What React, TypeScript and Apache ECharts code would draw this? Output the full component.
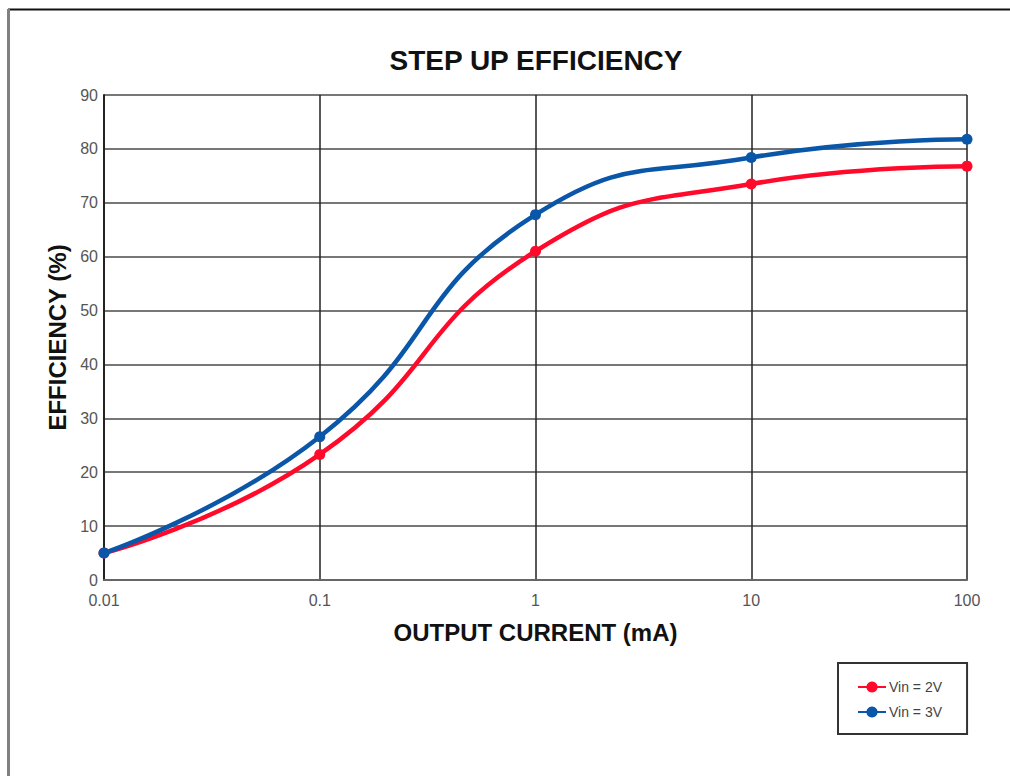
import React, { useEffect, useRef } from "react";
import * as echarts from "echarts";

const currents = [0.01, 0.1, 1, 10, 100];
const vin2 = [5, 23.3, 61, 73.5, 76.8];
const vin3 = [5, 26.6, 67.8, 78.4, 81.8];
const yTicks = [0, 10, 20, 30, 40, 50, 60, 70, 80, 90];
const seriesNames = ["Vin = 2V", "Vin = 3V"];

export default function App() {
  const ref = useRef<HTMLDivElement>(null);
  useEffect(() => {
    if (!ref.current) return;
    const chart = echarts.init(ref.current, undefined, { renderer: "svg" });
    const font = "Liberation Sans, Arial, sans-serif";
    chart.setOption({
      animation: false,
      backgroundColor: "#ffffff",
      title: {
        text: "STEP UP EFFICIENCY",
        left: 531,
        top: 41,
        textAlign: "center",
        textStyle: { fontFamily: font, fontSize: 28, fontWeight: "bold", color: "#111" },
      },
      grid: { left: 104, right: 43, top: 95, bottom: 196 },
      legend: {
        data: seriesNames,
        orient: "vertical",
        left: 838,
        top: 663,
        padding: [17, 25, 15, 19],
        itemGap: 11,
        itemWidth: 28,
        itemHeight: 14,
        borderColor: "#333",
        borderWidth: 2,
        textStyle: { fontFamily: font, fontSize: 14, color: "#444", padding: [0, 0, 0, -2] },
      },
      xAxis: {
        type: "log",
        logBase: 10,
        min: 0.01,
        max: 100,
        name: "OUTPUT CURRENT (mA)",
        nameLocation: "middle",
        nameGap: 40,
        nameTextStyle: { fontFamily: font, fontSize: 24, fontWeight: "bold", color: "#111" },
        axisLine: { lineStyle: { color: "#666", width: 2 } },
        axisTick: { show: false },
        axisLabel: {
          fontFamily: font,
          fontSize: 16,
          color: "#555",
          margin: 12,
          formatter: (v: number) => String(v),
        },
        splitLine: { show: true, lineStyle: { color: "#222", width: 1.5 } },
      },
      yAxis: {
        type: "value",
        min: yTicks[0],
        max: yTicks[yTicks.length - 1],
        interval: 10,
        name: "EFFICIENCY (%)",
        nameLocation: "middle",
        nameGap: 34,
        nameTextStyle: { fontFamily: font, fontSize: 24, fontWeight: "bold", color: "#111" },
        axisLine: { show: true, lineStyle: { color: "#222", width: 2 } },
        axisTick: { show: false },
        axisLabel: { fontFamily: font, fontSize: 16, color: "#555", margin: 6 },
        splitLine: { show: true, lineStyle: { color: "#777", width: 2 } },
      },
      series: [
        {
          name: seriesNames[0],
          type: "line",
          smooth: 0.5,
          data: currents.map((c, i) => [c, vin2[i]]),
          symbol: "circle",
          symbolSize: 11,
          itemStyle: { color: "#ff0a2a" },
          lineStyle: { color: "#ff0a2a", width: 4.5 },
        },
        {
          name: seriesNames[1],
          type: "line",
          smooth: 0.5,
          data: currents.map((c, i) => [c, vin3[i]]),
          symbol: "circle",
          symbolSize: 11,
          itemStyle: { color: "#0a56a8" },
          lineStyle: { color: "#0a56a8", width: 4.5 },
        },
      ],
      graphic: [
        { type: "line", shape: { x1: 8, y1: 9.5, x2: 1010, y2: 9.5 }, style: { stroke: "#111", lineWidth: 2 } },
        { type: "line", shape: { x1: 8.5, y1: 9, x2: 8.5, y2: 776 }, style: { stroke: "#808080", lineWidth: 3 } },
      ],
    });
    return () => chart.dispose();
  }, []);
  return (
    <div
      ref={ref}
      style={{ position: "absolute", left: 0, top: 0, width: 1010, height: 776 }}
    />
  );
}
